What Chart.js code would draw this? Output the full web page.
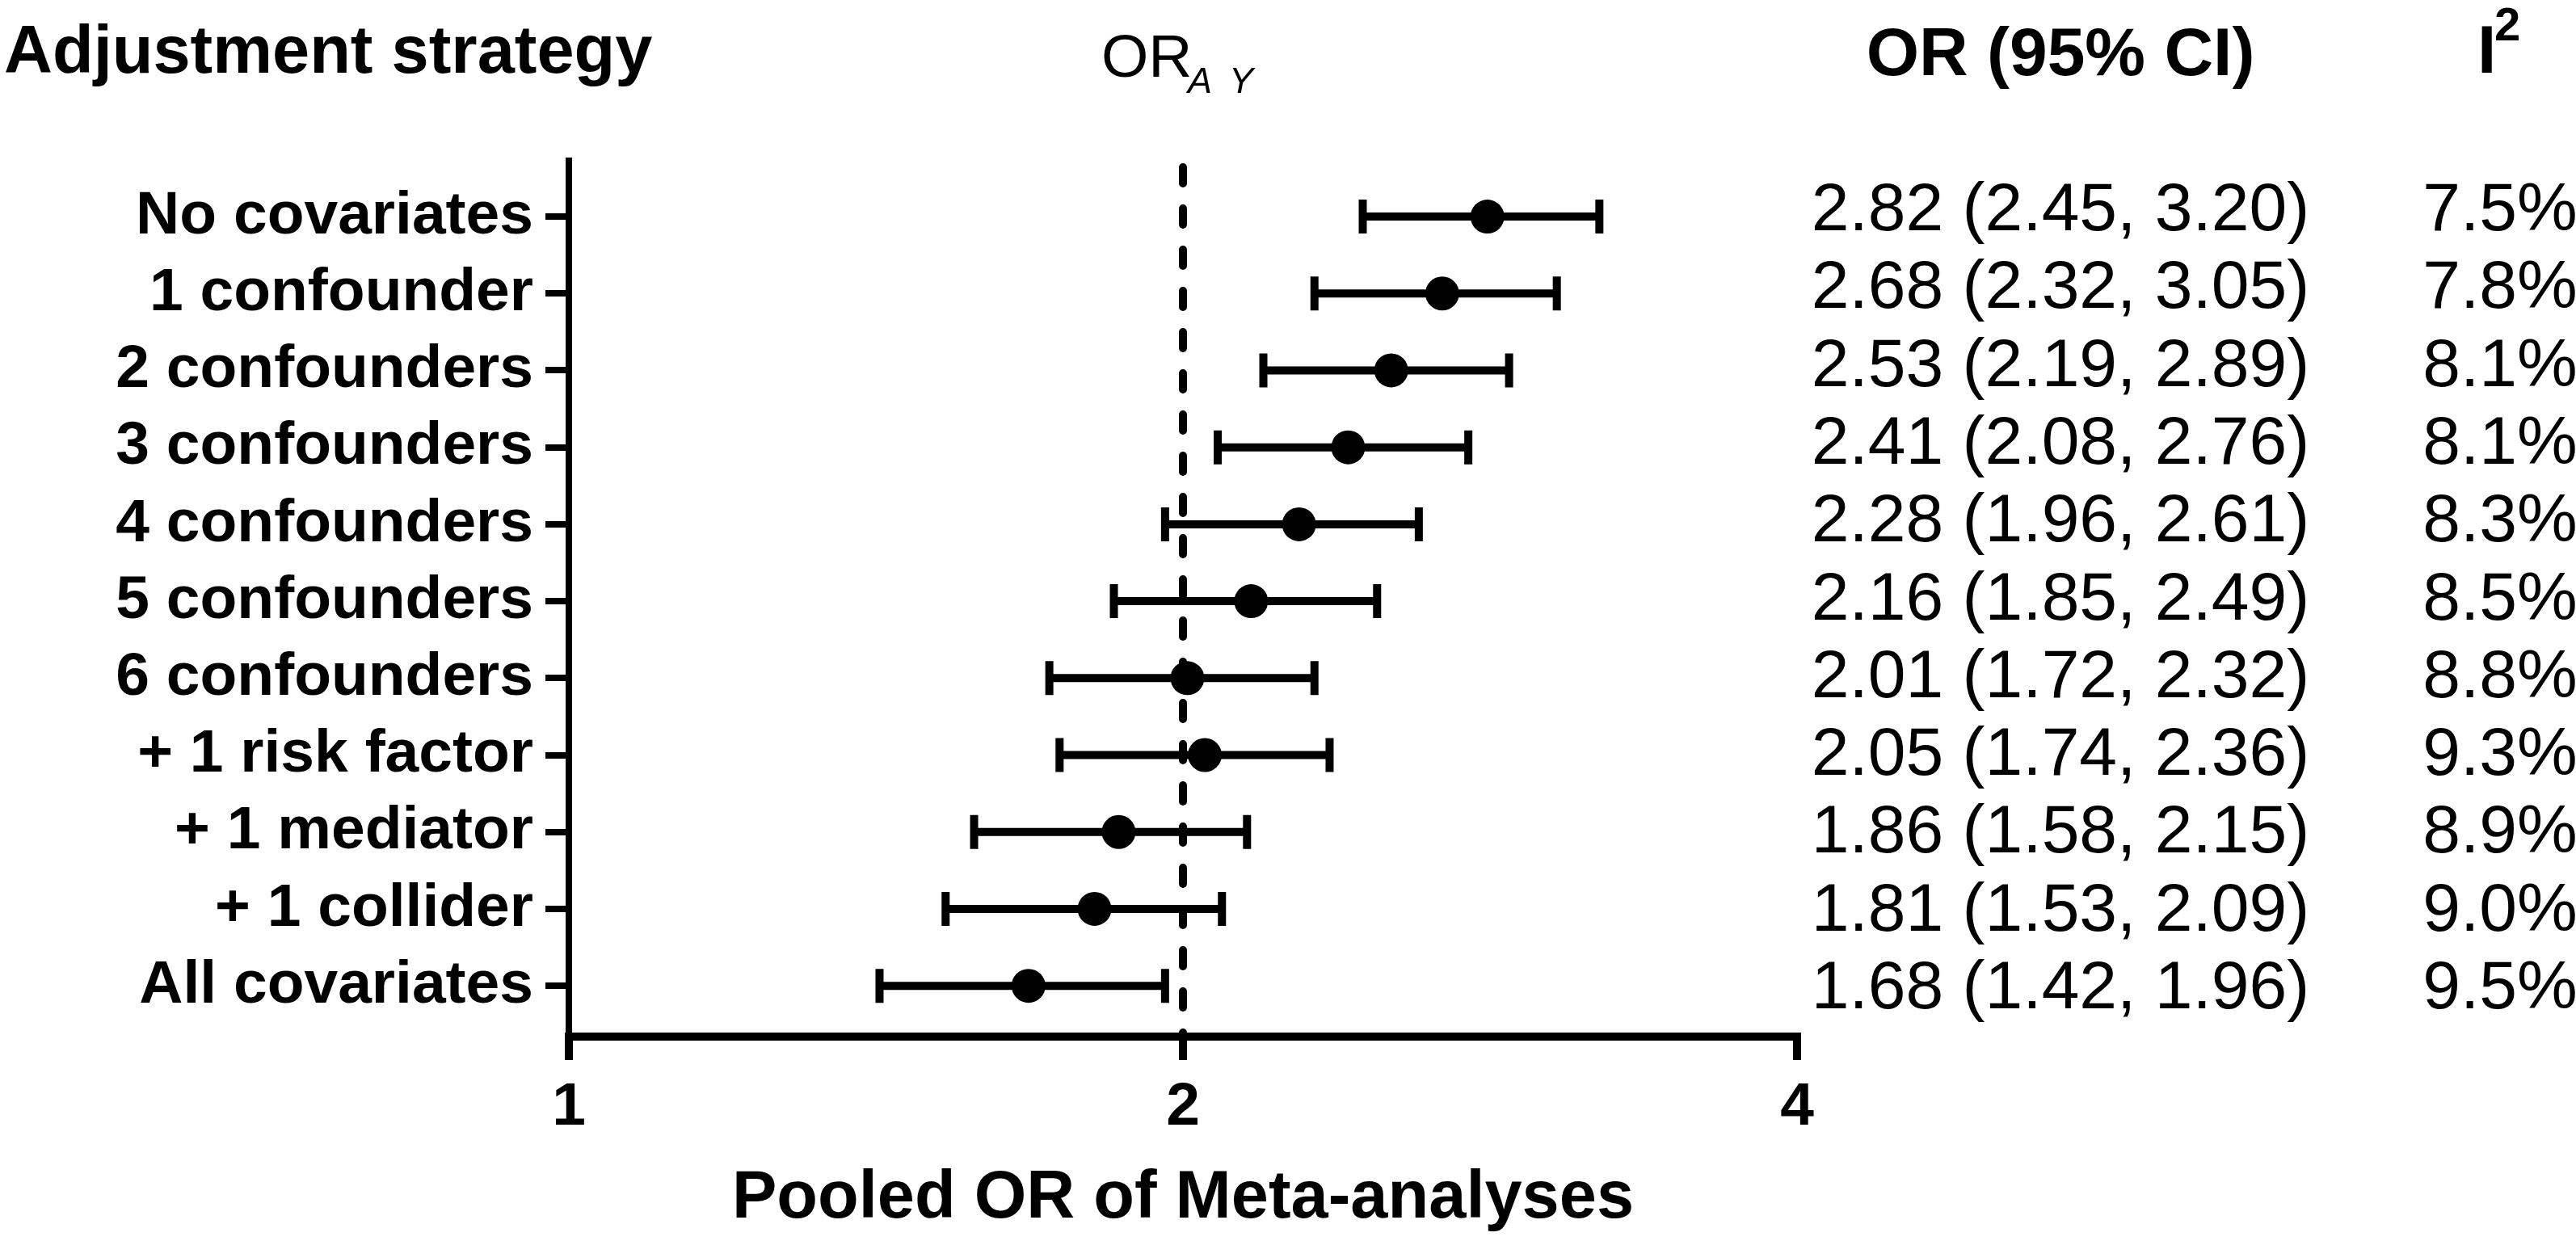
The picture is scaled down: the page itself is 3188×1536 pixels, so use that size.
<!DOCTYPE html>
<html>
<head>
<meta charset="utf-8">
<title>Pooled OR by adjustment strategy</title>
<script src="https://cdn.jsdelivr.net/npm/chart.js@4.4.1/dist/chart.umd.min.js"></script>
<style>
  html, body { margin: 0; padding: 0; background: #fff; }
  #wrap { width: 3188px; height: 1536px; }
</style>
</head>
<body>
<div id="wrap"><canvas id="forest" width="3188" height="1536"></canvas></div>
<script>
// Data
const categories = ['No covariates', '1 confounder', '2 confounders', '3 confounders', '4 confounders',
    '5 confounders', '6 confounders', '+ 1 risk factor', '+ 1 mediator', '+ 1 collider', 'All covariates'];
const orValues = [2.82, 2.68, 2.53, 2.41, 2.28, 2.16, 2.01, 2.05, 1.86, 1.81, 1.68];
const ciLower = [2.45, 2.32, 2.19, 2.08, 1.96, 1.85, 1.72, 1.74, 1.58, 1.53, 1.42];
const ciUpper = [3.20, 3.05, 2.89, 2.76, 2.61, 2.49, 2.32, 2.36, 2.15, 2.09, 1.96];
const i2Values = [7.5, 7.8, 8.1, 8.1, 8.3, 8.5, 8.8, 9.3, 8.9, 9.0, 9.5];
const xTicks = [1, 2, 4];
const refValue = 2;

const FONT = "'Liberation Sans', Arial, sans-serif";
Chart.defaults.font.family = FONT;
Chart.defaults.color = '#000';

// error bars + dashed reference line, drawn under the points
const forestPlugin = {
    id: 'forest',
    beforeDatasetsDraw: (chart) => {
        const ctx = chart.ctx;
        const x = chart.scales.x, y = chart.scales.y;
        const area = chart.chartArea;
        ctx.save();
        ctx.strokeStyle = '#000';

        // reference line at OR = 2
        const rx = x.getPixelForValue(refValue);
        ctx.lineWidth = 10;
        ctx.lineCap = 'round';
        ctx.setLineDash([20, 31]);
        ctx.beginPath();
        ctx.moveTo(rx, area.top + 8);
        ctx.lineTo(rx, area.bottom);
        ctx.stroke();
        ctx.setLineDash([]);

        // confidence intervals
        ctx.lineCap = 'butt';
        ctx.lineWidth = 10;
        categories.forEach((c, i) => {
            const py = y.getPixelForValue(i);
            const x1 = x.getPixelForValue(ciLower[i]);
            const x2 = x.getPixelForValue(ciUpper[i]);
            ctx.beginPath();
            ctx.moveTo(x1, py);
            ctx.lineTo(x2, py);
            ctx.moveTo(x1, py - 21);
            ctx.lineTo(x1, py + 21);
            ctx.moveTo(x2, py - 21);
            ctx.lineTo(x2, py + 21);
            ctx.stroke();
        });
        ctx.restore();
    },
    afterDraw: (chart) => {
        const ctx = chart.ctx;
        const x2 = chart.scales.x.getPixelForValue(refValue);
        ctx.save();
        ctx.fillStyle = '#000';
        ctx.textBaseline = 'alphabetic';

        // headers
        ctx.textAlign = 'left';
        ctx.font = 'bold 83px ' + FONT;
        ctx.fillText('Adjustment strategy', 5, 90);

        ctx.font = '75px ' + FONT;
        ctx.fillText('OR', x2 - 101, 95);
        ctx.font = 'italic 45px ' + FONT;
        ctx.fillText('A', x2 + 6, 115);
        ctx.fillText('Y', x2 + 57, 115);

        ctx.textAlign = 'center';
        ctx.font = 'bold 84px ' + FONT;
        ctx.fillText('OR (95% CI)', 2550, 93);

        ctx.textAlign = 'left';
        ctx.fillText('I', 3066, 90);
        ctx.font = 'bold 58px ' + FONT;
        ctx.fillText('2', 3087, 50);

        // right-hand columns
        ctx.font = '84px ' + FONT;
        ctx.textAlign = 'center';
        categories.forEach((c, i) => {
            const by = 285 + i * 96.3;
            const txt = orValues[i].toFixed(2) + ' (' + ciLower[i].toFixed(2) + ', ' + ciUpper[i].toFixed(2) + ')';
            ctx.fillText(txt, 2550, by);
            ctx.fillText(i2Values[i].toFixed(1) + '%', 3094, by);
        });
        ctx.restore();
    }
};

const points = orValues.map((v, i) => ({ x: v, y: i }));

new Chart(document.getElementById('forest'), {
    type: 'scatter',
    data: {
        datasets: [{
            label: 'Pooled OR',
            data: points,
            backgroundColor: '#000',
            borderColor: '#000',
            pointRadius: 21,
            pointHoverRadius: 21,
            borderWidth: 0
        }]
    },
    options: {
        responsive: false,
        animation: false,
        events: [],
        layout: { padding: { left: 0, top: 199, right: 964, bottom: 0 } },
        plugins: { legend: { display: false }, tooltip: { enabled: false } },
        scales: {
            x: {
                type: 'logarithmic',
                min: 1,
                max: 4,
                afterBuildTicks: (scale) => { scale.ticks = xTicks.map(v => ({ value: v })); },
                afterFit: (scale) => { scale.height = 253; },
                ticks: {
                    autoSkip: false,
                    maxRotation: 0,
                    padding: 14,
                    font: { size: 75, weight: 'bold' },
                    color: '#000',
                    callback: (v) => String(v)
                },
                grid: { drawOnChartArea: false, drawTicks: true, tickLength: 29, lineWidth: 10, color: '#000' },
                border: { display: true, width: 10, color: '#000' },
                title: {
                    display: true,
                    text: 'Pooled OR of Meta-analyses',
                    font: { size: 83, weight: 'bold' },
                    color: '#000',
                    padding: { top: 0, bottom: 2 }
                }
            },
            y: {
                type: 'linear',
                reverse: true,
                min: -0.725,
                max: 10.66,
                afterBuildTicks: (scale) => { scale.ticks = categories.map((c, i) => ({ value: i })); },
                afterFit: (scale) => { scale.width = 704; },
                ticks: {
                    autoSkip: false,
                    padding: 15,
                    font: { size: 75, weight: 'bold' },
                    color: '#000',
                    callback: (v) => categories[v]
                },
                grid: { drawOnChartArea: false, drawTicks: true, tickLength: 29, lineWidth: 8, color: '#000' },
                border: { display: true, width: 8, color: '#000' }
            }
        }
    },
    plugins: [forestPlugin]
});
</script>
</body>
</html>
